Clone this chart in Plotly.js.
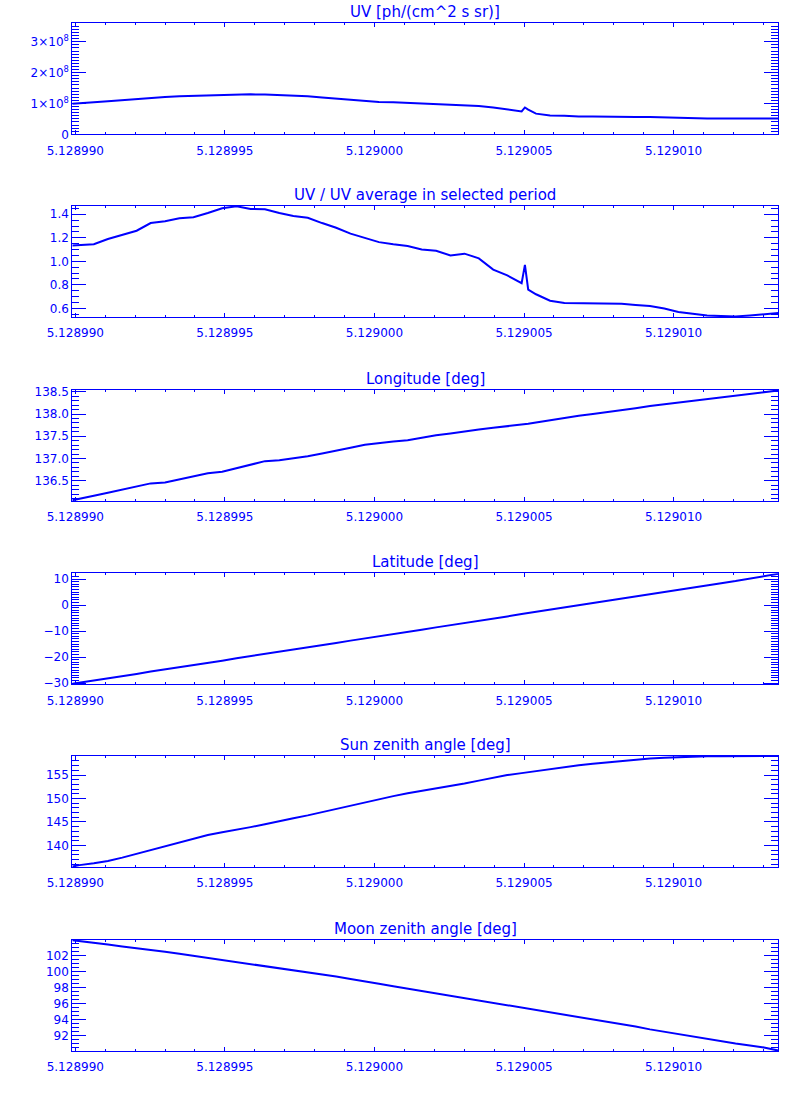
<!DOCTYPE html>
<html>
<head>
<meta charset="utf-8">
<script src="https://cdn.plot.ly/plotly-3.0.1.min.js"></script>
<style>html,body{margin:0;padding:0;background:#fff;} #chart{width:800px;height:1100px;}</style>
</head>
<body>
<div id="chart"></div>
<script>
// Sample times, shared by all series
const time = [5.12898990,
  5.12899014, 5.12899062, 5.12899109, 5.12899157, 5.12899205, 5.12899252, 5.12899300, 5.12899348,
  5.12899395, 5.12899443, 5.12899491, 5.12899539, 5.12899586, 5.12899634, 5.12899682, 5.12899729,
  5.12899777, 5.12899825, 5.12899872, 5.12899920, 5.12899968, 5.12900015, 5.12900063, 5.12900111,
  5.12900158, 5.12900206, 5.12900254, 5.12900301, 5.12900349, 5.12900397, 5.12900444, 5.12900492,
  5.12900503, 5.12900514,
  5.12900540, 5.12900587, 5.12900635, 5.12900683, 5.12900730, 5.12900778, 5.12900826, 5.12900873,
  5.12900921, 5.12900969, 5.12901016, 5.12901064, 5.12901112, 5.12901159, 5.12901207, 5.12901255,
  5.12901302, 5.12901350];

const uv = [0.99e8,
  1.00e8, 1.04e8, 1.07e8, 1.11e8, 1.14e8, 1.18e8, 1.21e8, 1.235e8,
  1.245e8, 1.265e8, 1.29e8, 1.30e8, 1.295e8, 1.29e8, 1.27e8, 1.245e8,
  1.235e8, 1.19e8, 1.15e8, 1.13e8, 1.09e8, 1.045e8, 1.04e8, 1.02e8,
  0.99e8, 0.97e8, 0.955e8, 0.95e8, 0.92e8, 0.87e8, 0.80e8, 0.74e8,
  0.87e8, 0.80e8,
  0.67e8, 0.61e8, 0.60e8, 0.575e8, 0.575e8, 0.565e8, 0.565e8, 0.565e8,
  0.565e8, 0.55e8, 0.54e8, 0.51e8, 0.51e8, 0.51e8, 0.51e8, 0.51e8,
  0.51e8, 0.51e8];

const uvRatio = [1.135,
  1.14, 1.145, 1.19, 1.225, 1.26, 1.325, 1.34, 1.365,
  1.375, 1.41, 1.45, 1.468, 1.445, 1.443, 1.41, 1.385,
  1.37, 1.325, 1.285, 1.235, 1.20, 1.163, 1.145, 1.13,
  1.10, 1.09, 1.05, 1.065, 1.025, 0.93, 0.88, 0.815,
  0.97, 0.76,
  0.72, 0.665, 0.645, 0.645, 0.645, 0.645, 0.64, 0.63,
  0.62, 0.60, 0.57, 0.555, 0.54, 0.535, 0.532, 0.54,
  0.55, 0.56];

const longitude = [136.06,
  136.09, 136.16, 136.23, 136.30, 136.38, 136.44, 136.46, 136.53,
  136.61, 136.67, 136.70, 136.78, 136.86, 136.94, 136.96, 137.00,
  137.05, 137.11, 137.17, 137.24, 137.31, 137.35, 137.38, 137.41,
  137.47, 137.52, 137.56, 137.61, 137.65, 137.69, 137.72, 137.76,
  137.77, 137.78,
  137.81, 137.86, 137.92, 137.96, 138.00, 138.04, 138.09, 138.13,
  138.18, 138.22, 138.26, 138.30, 138.34, 138.38, 138.41, 138.45,
  138.49, 138.53];

const latitude = [-30.3,
  -29.9, -29.0, -28.2, -27.3, -26.5, -25.6, -24.8, -23.9,
  -23.1, -22.2, -21.4, -20.5, -19.7, -18.8, -18.0, -17.1,
  -16.3, -15.4, -14.6, -13.7, -12.9, -12.0, -11.2, -10.3,
  -9.5, -8.6, -7.8, -6.9, -6.1, -5.2, -4.4, -3.5,
  -3.3, -3.1,
  -2.7, -1.8, -1.0, -0.1, 0.7, 1.6, 2.4, 3.3,
  4.1, 5.0, 5.8, 6.7, 7.5, 8.4, 9.2, 10.1,
  10.9, 12.0];

const sunZenith = [135.5,
  135.8, 136.2, 136.7, 137.4, 138.2, 139.0, 139.8, 140.6,
  141.4, 142.2, 142.8, 143.3, 143.9, 144.5, 145.2, 145.8,
  146.4, 147.1, 147.8, 148.4, 149.1, 149.8, 150.5, 151.1,
  151.6, 152.1, 152.7, 153.2, 153.8, 154.4, 155.0, 155.4,
  155.5, 155.6,
  155.9, 156.3, 156.8, 157.1, 157.4, 157.7, 158.0, 158.3,
  158.5, 158.7, 158.85, 158.95, 159.0, 159.0, 159.02, 159.03,
  159.04, 159.05];

const moonZenith = [103.95,
  103.85, 103.65, 103.4, 103.15, 102.95, 102.7, 102.5, 102.25,
  102.0, 101.75, 101.5, 101.2, 100.95, 100.75, 100.5, 100.25,
  100.0, 99.7, 99.4, 99.1, 98.75, 98.5, 98.2, 97.9,
  97.65, 97.4, 97.1, 96.8, 96.5, 96.15, 95.85, 95.55,
  95.5, 95.45,
  95.25, 94.95, 94.7, 94.35, 94.05, 93.75, 93.45, 93.15,
  92.8, 92.5, 92.2, 91.9, 91.6, 91.3, 91.05, 90.8,
  90.55, 90.15];

const panelTitles = ['UV [ph/(cm^2 s sr)]', 'UV / UV average in selected period', 'Longitude [deg]',
  'Latitude [deg]', 'Sun zenith angle [deg]', 'Moon zenith angle [deg]'];
const uvTickVals = [0, 1e8, 2e8, 3e8];
const uvTickText = ['0', '1×10<sup>8</sup>', '2×10<sup>8</sup>', '3×10<sup>8</sup>'];

const BLUE = '#0000ff';
const FONT = 'DejaVu Sans';
const series = [uv, uvRatio, longitude, latitude, sunZenith, moonZenith];

// layout geometry (pixels in an 800x1100 page)
const H = 1100, W = 800;
const xL = 72.3, xR = 778.3;
const tops = [23.3, 206, 390, 573.3, 756, 940];
const plotH = 111;

const yCfg = [
  {range: [0, 3.6e8], tickvals: uvTickVals, ticktext: uvTickText, minor: 1e7},
  {range: [0.527, 1.47], dtick: 0.2, tick0: 0, tickformat: '.1f', minor: 0.05},
  {range: [136.044, 138.54], dtick: 0.5, tick0: 0, tickformat: '.1f', minor: 0.1},
  {range: [-30.5, 12.2], dtick: 10, tick0: 0, minor: 1},
  {range: [135.4, 159.05], dtick: 5, tick0: 0, minor: 1},
  {range: [90.1, 103.97], dtick: 2, tick0: 0, minor: 0.5}
];

const traces = [];
const layout = {
  width: W, height: H,
  margin: {l: 0, r: 0, t: 0, b: 0},
  paper_bgcolor: '#ffffff', plot_bgcolor: '#ffffff',
  showlegend: false,
  annotations: []
};

for (let k = 0; k < 6; k++) {
  const n = k === 0 ? '' : String(k + 1);
  traces.push({
    x: time, y: series[k], type: 'scatter', mode: 'lines',
    line: {color: BLUE, width: 2, shape: 'linear'},
    xaxis: 'x' + n, yaxis: 'y' + n, hoverinfo: 'skip'
  });
  const yTop = 1 - tops[k] / H;
  const yBot = 1 - (tops[k] + plotH) / H;
  layout['xaxis' + n] = {
    domain: [xL / W, xR / W], anchor: 'y' + n,
    range: [5.1289899, 5.1290135],
    tick0: 5.12899, dtick: 0.000005, tickformat: '.6f',
    ticks: 'inside', ticklen: 4, tickwidth: 1, tickcolor: BLUE,
    minor: {ticks: 'inside', ticklen: 2, tickwidth: 1, tickcolor: BLUE, dtick: 0.000001, showgrid: false},
    showline: true, linecolor: BLUE, linewidth: 1, mirror: 'ticks',
    showgrid: false, zeroline: false, fixedrange: true,
    tickfont: {family: FONT, size: 12, color: BLUE},
    ticklabelstandoff: 5
  };
  const c = yCfg[k];
  const ya = {
    domain: [yBot, yTop], anchor: 'x' + n,
    range: c.range,
    ticks: 'inside', ticklen: 14, tickwidth: 1, tickcolor: BLUE,
    minor: {ticks: 'inside', ticklen: 7, tickwidth: 1, tickcolor: BLUE, dtick: c.minor, showgrid: false},
    showline: true, linecolor: BLUE, linewidth: 1, mirror: 'ticks',
    showgrid: false, zeroline: false, fixedrange: true,
    tickfont: {family: FONT, size: 12, color: BLUE}
  };
  if (c.tickvals) { ya.tickmode = 'array'; ya.tickvals = c.tickvals; ya.ticktext = c.ticktext; }
  else { ya.tick0 = c.tick0; ya.dtick = c.dtick; if (c.tickformat) ya.tickformat = c.tickformat; }
  layout['yaxis' + n] = ya;
  layout.annotations.push({
    text: panelTitles[k], xref: 'paper', yref: 'paper',
    x: (xL + xR) / 2 / W, y: yTop, xanchor: 'center', yanchor: 'bottom', yshift: 0,
    showarrow: false, font: {family: FONT, size: 15, color: BLUE}
  });
}

Plotly.newPlot('chart', traces, layout, {displayModeBar: false, staticPlot: true});
</script>
</body>
</html>
